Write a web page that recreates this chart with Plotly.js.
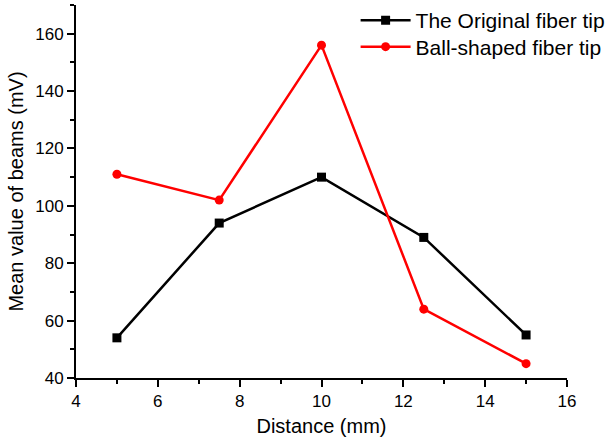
<!DOCTYPE html>
<html>
<head>
<meta charset="utf-8">
<script src="https://cdn.plot.ly/plotly-3.0.1.min.js"></script>
<style>html,body{margin:0;padding:0;background:#fff}#chart{width:611px;height:442px}</style>
</head>
<body>
<div id="chart"></div>
<script>
const distance = [5, 7.5, 10, 12.5, 15];
const originalTip = [54, 94, 110, 89, 55];
const ballTip = [111, 102, 156, 64, 45];
const seriesNames = ["The Original fiber tip", "Ball-shaped fiber tip"];

const traces = [
  {x: distance, y: originalTip, name: seriesNames[0], type: 'scatter', mode: 'lines+markers', legend: 'legend',
   line: {color: '#000000', width: 2.5}, marker: {symbol: 'square', size: 9, color: '#000000'}},
  {x: distance, y: ballTip, name: seriesNames[1], type: 'scatter', mode: 'lines+markers', legend: 'legend2',
   line: {color: '#ff0000', width: 2.5}, marker: {symbol: 'circle', size: 9, color: '#ff0000'}}
];

const font = {family: 'Liberation Sans, Arial, sans-serif', color: '#000', size: 17};
const legendBase = {xanchor: 'left', yanchor: 'top', xref: 'container', yref: 'container',
                    bgcolor: 'rgba(0,0,0,0)', itemwidth: 50,
                    font: {family: font.family, size: 21, color: '#000'}};
const layout = {
  width: 611, height: 442,
  margin: {l: 76, r: 44, t: 5, b: 64, autoexpand: false},
  paper_bgcolor: '#fff', plot_bgcolor: '#fff',
  font: font,
  showlegend: true,
  legend: Object.assign({}, legendBase, {x: 0.582, y: 1.0}),
  legend2: Object.assign({}, legendBase, {x: 0.582, y: 0.94}),
  xaxis: {range: [4, 16], dtick: 2, tick0: 4, showgrid: false, zeroline: false, automargin: false,
          showline: true, linecolor: '#000', linewidth: 2, ticks: 'outside', ticklen: 7, tickwidth: 2, tickcolor: '#000',
          minor: {dtick: 1, ticks: 'outside', ticklen: 4, tickwidth: 2, tickcolor: '#000', showgrid: false},
          tickfont: {size: 17},
          title: {text: 'Distance (mm)', font: {size: 20}, standoff: 9}},
  yaxis: {range: [40, 170], dtick: 20, tick0: 40, showgrid: false, zeroline: false, automargin: false,
          showline: true, linecolor: '#000', linewidth: 2, ticks: 'outside', ticklen: 7, tickwidth: 2, tickcolor: '#000',
          minor: {dtick: 10, ticks: 'outside', ticklen: 4, tickwidth: 2, tickcolor: '#000', showgrid: false},
          tickfont: {size: 17},
          title: {text: 'Mean value of beams (mV)', font: {size: 20}, standoff: 6}}
};

Plotly.newPlot('chart', traces, layout, {displayModeBar: false, staticPlot: true});
</script>
</body>
</html>
